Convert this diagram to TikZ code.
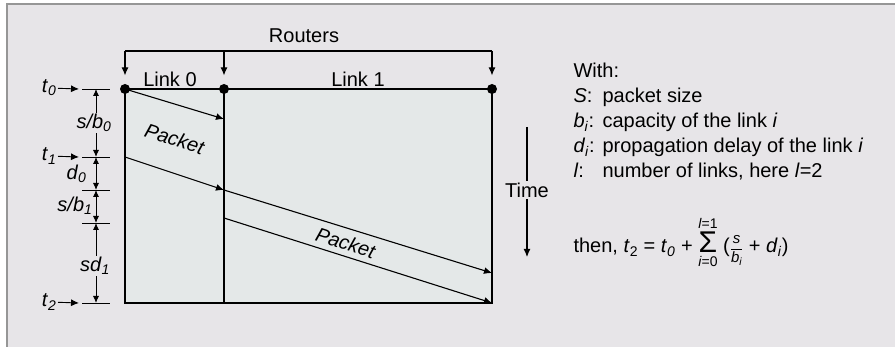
\documentclass[tikz,border=0pt]{standalone}
\usepackage{amsmath}
\usepackage{fontspec}
\setmainfont{Liberation Sans}
\usetikzlibrary{arrows.meta,positioning}
\definecolor{panel}{RGB}{231,229,232}
\definecolor{chart}{RGB}{228,232,232}
\definecolor{rim}{RGB}{150,150,150}
\newcommand{\iv}[2]{\textit{#1}\textsubscript{\textit{#2}}}
\newcommand{\bigsig}{\mathop{\text{\fontsize{30}{30}\selectfont\upshape Σ}}}

\begin{document}
\begin{tikzpicture}[x=1pt,y=1pt,line width=1.1pt,>={Latex[length=8pt,width=7pt]},
  every node/.style={font=\fontsize{20}{23}\selectfont,inner sep=1pt},
  router/.style={circle,fill=black,inner sep=0pt,minimum size=10pt},
  tick/.style={line width=0.9pt},
  dim/.style={<->,line width=0.9pt,>={Latex[length=7pt,width=6pt]}},
  cut/.style={fill=panel,inner sep=1pt}]
\useasboundingbox (0,0) rectangle (895,-347);
\fill [white] (0,0) rectangle (895,-347);
\fill [panel] (7,-4) rectangle (895,-347);
\draw [rim] (7,-347) -- (7,-4) -- (895,-4);

\fill [chart] (125,-89) rectangle (492,-303);
\node [router] (r0) at (125,-89) {};
\node [router] (r1) at (224,-89) {};
\node [router] (r2) at (492,-89) {};
\coordinate (b0) at (125,-303);
\coordinate (b1) at (224,-303);
\coordinate (b2) at (492,-303);
\draw (r0.center) -- (r2.center) -- (b2) -- (b0) -- (r0.center);
\draw (r1.center) -- (b1);

\node (routers) at (304,-36) {Routers};
\coordinate (q0) at (125,-51);
\coordinate (q1) at (224,-51);
\coordinate (q2) at (492,-51);
\draw (q0) -- (q2);
\foreach \i in {0,1,2}
  \draw [->,shorten >=8pt] (q\i) -- (r\i);
\node (link0) at (170,-79) {Link 0};
\node (link1) at (358,-79) {Link 1};

\coordinate (a1) at (224,-119);
\draw [->] (r0.center) -- (a1);
\node [rotate=-18] (pk0) at (175,-139) {\textit{Packet}};
\coordinate (s1) at (125,-157);
\coordinate (m1) at (224,-190);
\coordinate (e1) at (492,-273);
\draw [->] (s1) -- (m1);
\draw [->] (m1) -- (e1);
\coordinate (s2) at (224,-218);
\coordinate (e2) at (492,-303);
\draw [->] (s2) -- (e2);
\node [rotate=-18] (pk1) at (346,-243) {\textit{Packet}};

\coordinate (k0) at (96,-89);
\coordinate (k1) at (96,-157);
\coordinate (k2) at (96,-190);
\coordinate (k3) at (96,-223);
\coordinate (k4) at (96,-303);
\foreach \k in {k0,k1,k2,k3,k4}
  \draw [tick] ([xshift=-14pt]\k) -- ([xshift=14pt]\k);
\draw [dim] (k0) -- (k1);
\draw [dim] (k1) -- (k2);
\draw [dim] (k2) -- (k3);
\draw [dim] (k3) -- (k4);
\node [cut] (sb0) at (94,-123) {\iv{s/b}{0}};
\node [anchor=east] (d0) at (88,-174) {\iv{d}{0}};
\node [anchor=east,inner sep=0pt] (sb1) at (93,-206) {\iv{s/b}{1}};
\node [cut] (sd1) at (95,-266) {\iv{sd}{1}};

\node [anchor=east] (t0) at (58,-88) {\iv{t}{0}};
\node [anchor=east] (t1) at (58,-156) {\iv{t}{1}};
\node [anchor=east] (t2) at (58,-302) {\iv{t}{2}};
\draw [->,line width=0.9pt] (t0) -- ([xshift=-17pt]k0);
\draw [->,line width=0.9pt] (t1) -- ([xshift=-17pt]k1);
\draw [->,line width=0.9pt] (t2) -- ([xshift=-17pt]k4);

\node [cut] (time) at (527,-190) {Time};
\coordinate (tt) at (527,-127);
\coordinate (tb) at (527,-257);
\draw (tt) -- (time);
\draw [->] (time) -- (tb);

\node [anchor=base west] (with) at (572,-78) {With:};
\foreach \y/\k/\v [count=\n] in {103/{\textit{S}:}/{packet size},
    128/{\iv{b}{i}:}/{capacity of the link \textit{i}},
    153/{\iv{d}{i}:}/{propagation delay of the link \textit{i}},
    178/{\textit{l}:}/{number of links, here \textit{l}=2}} {
  \node [anchor=base west] (key\n) at (572,-\y) {\k};
  \node [anchor=base west] (val\n) at (601,-\y) {\v};
}
\node [anchor=base west] (then) at (572,-253)
  {then, \textit{t}\textsubscript{2} = \textit{t}\textsubscript{\textit{0}} +
   $\bigsig\limits_{\text{\textit{i}=0}}^{\text{\textit{l}=1}}$
   ({\fontsize{15}{15}\selectfont$\dfrac{\textit{s}}{\textit{b}_{\textit{i}}}$}
   + \textit{d}\textsubscript{\textit{i}})};
\end{tikzpicture}
\end{document}
